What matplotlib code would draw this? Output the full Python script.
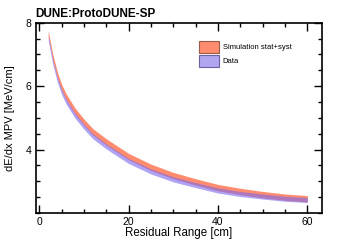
import matplotlib
matplotlib.use("Agg")
import matplotlib.pyplot as plt
import matplotlib.ticker as mticker
from matplotlib.patches import Patch

# residual range [cm] and dE/dx MPV band centres / half widths [MeV/cm]
res_range = [2, 3, 4, 5, 6, 8, 10, 12, 15, 20, 25, 30, 35, 40, 45, 50, 55, 60]
data_mpv = [7.52, 6.78, 6.23, 5.82, 5.52, 5.07, 4.72, 4.42, 4.10, 3.64,
            3.31, 3.06, 2.88, 2.71, 2.60, 2.52, 2.45, 2.41]
sim_mpv = [7.66, 6.92, 6.37, 5.96, 5.66, 5.21, 4.86, 4.56, 4.24, 3.78,
           3.44, 3.18, 2.98, 2.80, 2.68, 2.58, 2.50, 2.45]
sim_err = 0.10
data_err = 0.08

plt.rcParams.update({
    "font.family": ["Liberation Sans", "DejaVu Sans"],
    "font.size": 7.5,
    "axes.linewidth": 1.2,
})

fig = plt.figure(figsize=(3.57, 2.44), dpi=100)
ax = fig.add_axes([0.100, 0.127, 0.801, 0.780])

sim_lo = [v - sim_err for v in sim_mpv]
sim_hi = [v + sim_err for v in sim_mpv]
dat_lo = [v - data_err for v in data_mpv]
dat_hi = [v + data_err for v in data_mpv]

ax.fill_between(res_range, sim_lo, sim_hi, color="#ff8c6e", lw=0)
ax.fill_between(res_range, dat_lo, dat_hi, color="#7b68ee", alpha=0.6, lw=0)

ax.set_xlim(-0.8, 63.2)
ax.set_ylim(2.0, 8.0)
ax.xaxis.set_major_locator(mticker.FixedLocator([0, 20, 40, 60]))
ax.xaxis.set_minor_locator(mticker.MultipleLocator(5))
ax.yaxis.set_major_locator(mticker.FixedLocator([4, 6, 8]))
ax.yaxis.set_minor_locator(mticker.MultipleLocator(0.5))
ax.tick_params(which="both", direction="in", top=True, right=True, width=1.0)
ax.tick_params(which="major", length=6, labelsize=7.5, pad=3)
ax.tick_params(which="minor", length=3)

ax.set_xlabel("Residual Range [cm]", fontsize=8.3, labelpad=0)
ax.set_ylabel("dE/dx MPV [MeV/cm]", fontsize=8, labelpad=8)
ax.set_title("DUNE:ProtoDUNE-SP", fontsize=8.5, fontweight="bold", loc="left", pad=4)

handles = [
    Patch(facecolor="#ff8c6e", edgecolor="#9a5a4a", lw=0.8, label="Simulation stat+syst"),
    Patch(facecolor="#b0a6f0", edgecolor="#6a62a0", lw=0.8, label="Data"),
]
ax.legend(handles=handles, loc="upper left", bbox_to_anchor=(0.56, 0.92),
          frameon=False, fontsize=5.5, handlelength=2.6, handleheight=2.0,
          labelspacing=0.3, handletextpad=0.5, borderaxespad=0)

fig.savefig("out.png", dpi=100)
